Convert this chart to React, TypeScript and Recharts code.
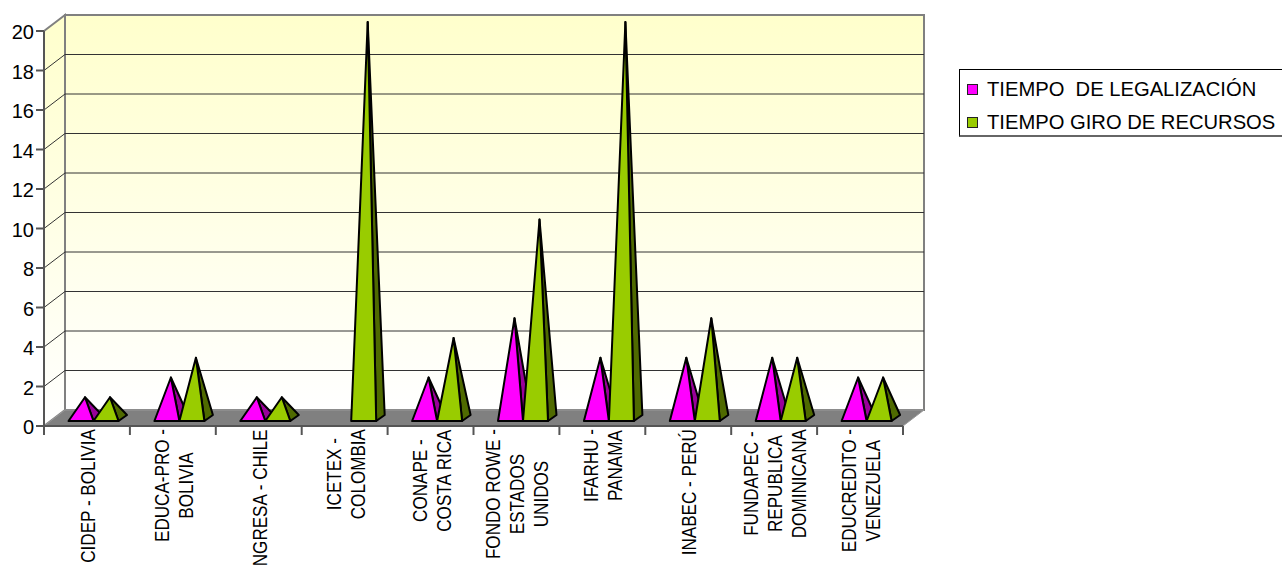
import React from "react";
import { BarChart, Bar, XAxis, YAxis, CartesianGrid, Legend, ReferenceArea } from "recharts";

const categories = [
  "CIDEP - BOLIVIA",
  "EDUCA-PRO -|BOLIVIA",
  "INGRESA - CHILE",
  "ICETEX -|COLOMBIA",
  "CONAPE -|COSTA RICA",
  "FONDO ROWE -|ESTADOS|UNIDOS",
  "IFARHU -|PANAMA",
  "INABEC - PERÚ",
  "FUNDAPEC -|REPUBLICA|DOMINICANA",
  "EDUCREDITO -|VENEZUELA",
];
const legalizacion = [1, 2, 1, 0, 2, 5, 3, 3, 3, 2];
const giro = [1, 3, 1, 20, 4, 10, 20, 5, 3, 2];
const yTicks = [0, 2, 4, 6, 8, 10, 12, 14, 16, 18, 20];
const gridValues = [2, 4, 6, 8, 10, 12, 14, 16, 18];
const data = categories.map((name, i) => ({ name, legalizacion: legalizacion[i], giro: giro[i] }));

const FONT = "'Liberation Sans', Arial, sans-serif";
const FONT_SIZE = 20;
const X_SCALE = 0.855;
const DX = 21;
const DY = -16;
const AXIS = "#555555";
const WALL = "#808080";

function textWidth(s: string) {
  const ctx = document.createElement("canvas").getContext("2d");
  if (!ctx) return s.length * 10;
  ctx.font = `${FONT_SIZE}px 'Liberation Sans'`;
  return ctx.measureText(s).width * X_SCALE;
}

function Pyramid(props: any) {
  const { x, y, width, height, value, fill, dark } = props;
  const v = Array.isArray(value) ? value[1] - value[0] : value;
  if (!v) return null;
  const x0 = x + 6.5;
  const x1 = x0 + width;
  const base = y + height - 5;
  const apexX = x0 + width / 2 + 4;
  const apexY = y - 9;
  return (
    <g stroke="#000" strokeWidth={2} strokeLinejoin="round">
      <polygon points={`${x1},${base} ${x1 + 8.5},${base - 6} ${apexX},${apexY}`} fill={dark} />
      <polygon points={`${x0},${base} ${x1},${base} ${apexX},${apexY}`} fill={fill} />
    </g>
  );
}

function Walls(props: any) {
  const { x, y, width, height } = props;
  return (
    <g>
      <defs>
        <linearGradient id="wallFill" x1="0" y1="0" x2="0" y2="1">
          <stop offset="0" stopColor="#FFFFCC" />
          <stop offset="1" stopColor="#FFFFFF" />
        </linearGradient>
      </defs>
      <polygon
        points={`${x},${y} ${x + DX},${y + DY} ${x + DX},${y + height + DY} ${x},${y + height}`}
        fill="url(#wallFill)"
        stroke={WALL}
        strokeWidth={2}
      />
      <rect x={x + DX} y={y + DY} width={width} height={height} fill="url(#wallFill)" stroke={WALL} strokeWidth={2} />
      <polygon
        points={`${x},${y + height} ${x + DX},${y + height + DY} ${x + width + DX},${y + height + DY} ${x + width},${y + height}`}
        fill="#808080"
        stroke="#999999"
      />
    </g>
  );
}

function GridLine(props: any) {
  const { x1, x2, y1, index } = props;
  if (y1 === undefined) return null;
  return (
    <g key={`${y1}-${index}`} stroke="#333333" strokeWidth={1}>
      <line x1={x1 + DX} x2={x2 + DX} y1={y1 + DY} y2={y1 + DY} />
      <line x1={x1} x2={x1 + DX} y1={y1} y2={y1 + DY} />
    </g>
  );
}

function YTick(props: any) {
  const { x, y, payload } = props;
  return (
    <g>
      <line x1={x - 8} x2={x} y1={y} y2={y} stroke={AXIS} strokeWidth={2} />
      <text x={x - 10} y={y + 8} textAnchor="end" fontFamily={FONT} fontSize={FONT_SIZE} fill="#000">
        {payload.value}
      </text>
    </g>
  );
}

function XTick(props: any) {
  const { x, y, payload, index, visibleTicksCount } = props;
  const step = 85.9;
  const lines = String(payload.value).split("|");
  const maxW = Math.max(...lines.map(textWidth));
  const top = 429;
  const cy = top + maxW / 2;
  const lineH = 24;
  const left = x - step / 2;
  const right = x + step / 2;
  return (
    <g>
      <line x1={left} x2={left} y1={y} y2={y + 9} stroke={AXIS} strokeWidth={2} />
      {index === visibleTicksCount - 1 ? (
        <line x1={right} x2={right} y1={y} y2={y + 9} stroke={AXIS} strokeWidth={2} />
      ) : null}
      {lines.map((l, i) => {
        const tx = x + 8 + (i - (lines.length - 1) / 2) * lineH;
        return (
          <text
            key={i}
            transform={`translate(${tx},${cy}) rotate(-90) scale(${X_SCALE},1)`}
            textAnchor="middle"
            fontFamily={FONT}
            fontSize={FONT_SIZE}
            fill="#000"
          >
            {l}
          </text>
        );
      })}
    </g>
  );
}

function LegendBox(props: any) {
  const items = props.payload || [];
  return (
    <div
      style={{
        position: "relative",
        width: 330,
        height: 68,
        boxSizing: "border-box",
        background: "#fff",
        borderTop: "1px solid #000",
        borderLeft: "1px solid #000",
        borderBottom: "2px solid #666",
        fontFamily: FONT,
        fontSize: 20.2,
        color: "#000",
      }}
    >
      {items.map((it: any, i: number) => (
        <div key={i} style={{ position: "absolute", left: 7, top: 7 + i * 33, height: 24, display: "flex", alignItems: "center", whiteSpace: "pre" }}>
          <span style={{ width: 9, height: 9, border: "1.5px solid #222", background: it.color, marginRight: 9, display: "inline-block" }} />
          <span>{it.value}</span>
        </div>
      ))}
    </div>
  );
}

export default function App() {
  return (
    <div style={{ position: "absolute", left: 0, top: 0, width: 1282, height: 567, overflow: "hidden", background: "#fff" }}>
      <BarChart
        width={1282}
        height={567}
        data={data}
        margin={{ top: 31, right: 379, bottom: 0, left: 0 }}
        barSize={25}
        barGap={0}
        barCategoryGap={0}
      >
        <ReferenceArea y1={0} y2={20} shape={<Walls />} ifOverflow="visible" zIndex={-200} />
        <CartesianGrid vertical={false} horizontalValues={gridValues} horizontal={(p: any) => <GridLine {...p} />} />
        <XAxis
          dataKey="name"
          height={141}
          interval={0}
          axisLine={{ stroke: AXIS, strokeWidth: 2 }}
          tickLine={false}
          tickSize={0}
          tickMargin={0}
          tick={<XTick />}
        />
        <YAxis
          width={44}
          domain={[0, 20]}
          ticks={yTicks}
          interval={0}
          axisLine={{ stroke: AXIS, strokeWidth: 2 }}
          tickLine={false}
          tickSize={0}
          tickMargin={0}
          tick={<YTick />}
        />
        <Bar dataKey="legalizacion" name="TIEMPO  DE LEGALIZACIÓN" fill="#FF00FF" isAnimationActive={false} shape={<Pyramid dark="#990099" />} />
        <Bar dataKey="giro" name="TIEMPO GIRO DE RECURSOS" fill="#99CC00" isAnimationActive={false} shape={<Pyramid dark="#4F6A00" />} />
        <Legend
          layout="vertical"
          align="center"
          verticalAlign="middle"
          content={<LegendBox />}
          wrapperStyle={{ left: 959, top: 69, width: 330, right: "auto", bottom: "auto" }}
        />
      </BarChart>
    </div>
  );
}
